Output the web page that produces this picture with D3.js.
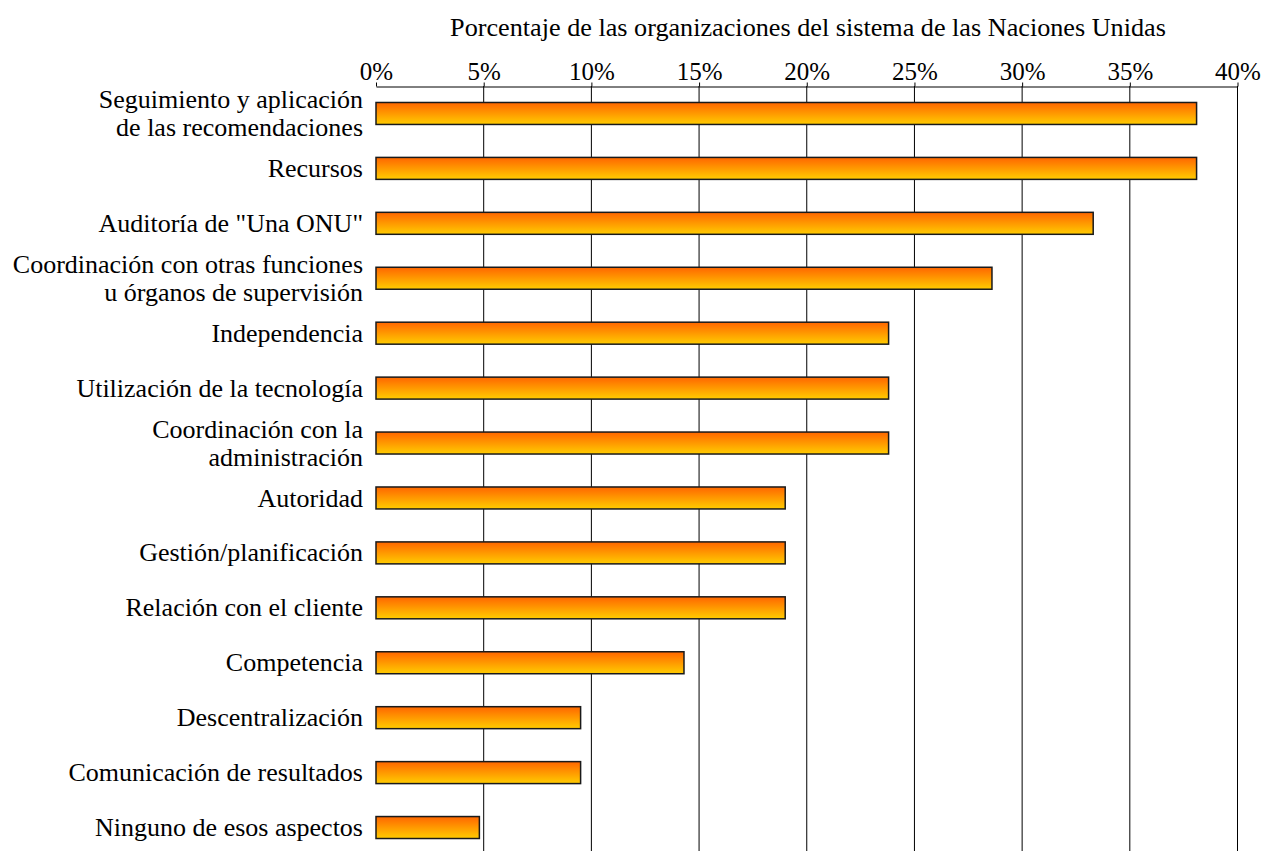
<!DOCTYPE html>
<html><head><meta charset="utf-8">
<script src="https://cdn.jsdelivr.net/npm/d3@7"></script>
<style>body{margin:0;background:#fff}svg{display:block}</style>
</head><body>
<svg id="c" width="1278" height="851"></svg>
<script>
const categories = [
  ["Seguimiento y aplicación","de las recomendaciones"],
  ["Recursos"],
  ["Auditoría de \"Una ONU\""],
  ["Coordinación con otras funciones","u órganos de supervisión"],
  ["Independencia"],
  ["Utilización de la tecnología"],
  ["Coordinación con la","administración"],
  ["Autoridad"],
  ["Gestión/planificación"],
  ["Relación con el cliente"],
  ["Competencia"],
  ["Descentralización"],
  ["Comunicación de resultados"],
  ["Ninguno de esos aspectos"]
];
const values = [38.1, 38.1, 33.3, 28.6, 23.8, 23.8, 23.8, 19.0, 19.0, 19.0, 14.3, 9.5, 9.5, 4.8];
const tickValues = [0,5,10,15,20,25,30,35,40];
const title = "Porcentaje de las organizaciones del sistema de las Naciones Unidas";

const svg = d3.select("#c");
const font = "'Liberation Serif','Times New Roman',serif";
const x = d3.scaleLinear().domain([0,40]).range([376,1237.5]);
const y = d3.scaleBand().domain(d3.range(categories.length)).range([86,855]).paddingInner(0.6).paddingOuter(0.3);

const defs = svg.append("defs");
const g = defs.append("linearGradient").attr("id","bg").attr("x1",0).attr("y1",0).attr("x2",0).attr("y2",1);
g.append("stop").attr("offset","0%").attr("stop-color","#FF6600");
g.append("stop").attr("offset","100%").attr("stop-color","#FFCC00");

// gridlines
svg.append("g").selectAll("line").data(tickValues.filter(d=>d>0)).join("line")
  .attr("x1",d=>x(d)).attr("x2",d=>x(d)).attr("y1",86).attr("y2",851)
  .attr("stroke","#000").attr("stroke-width",1);

// top axis
const ax = svg.append("g").attr("transform","translate(0,86.5)")
  .call(d3.axisTop(x).tickValues(tickValues).tickFormat(d=>d+"%").tickSize(4).tickSizeOuter(0));
ax.select(".domain").attr("stroke","#000");
ax.selectAll(".tick line").attr("stroke","#000");
ax.selectAll(".tick text").attr("font-family",font).attr("font-size",25).attr("fill","#000").attr("dy","0em");

svg.append("text").attr("x",808).attr("y",36).attr("text-anchor","middle")
  .attr("font-family",font).attr("font-size",26.2).text(title);

// bars
svg.append("g").selectAll("rect").data(values).join("rect")
  .attr("x",x(0)).attr("y",(d,i)=>y(i)).attr("width",d=>x(d)-x(0)).attr("height",y.bandwidth())
  .attr("fill","url(#bg)").attr("stroke","#1a1a1a").attr("stroke-width",1.5);

// labels
const lab = svg.append("g").selectAll("text").data(categories).join("text")
  .attr("text-anchor","end").attr("font-family",font).attr("font-size",26).attr("fill","#000")
  .attr("x",363)
  .attr("y",(d,i)=>y(i)+y.bandwidth()/2);
lab.each(function(d){
  const t = d3.select(this);
  const n = d.length;
  d.forEach((s,k)=>{
    t.append("tspan").attr("x",363).attr("dy", k===0 ? ((-(n-1)/2)*1.08+0.33)+"em" : "1.08em").text(s);
  });
});
</script>
</body></html>
